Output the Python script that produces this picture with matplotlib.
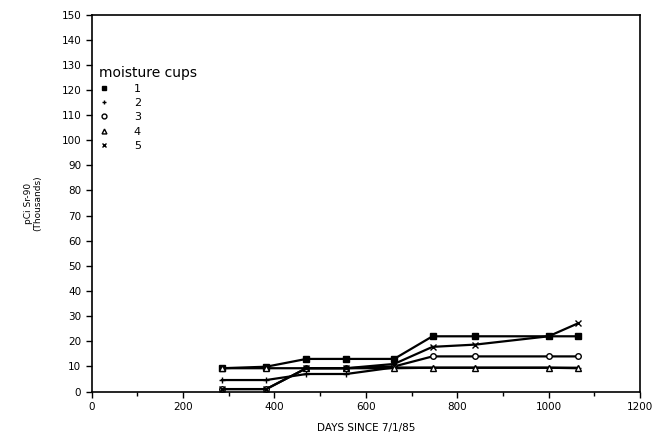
import numpy as np
import matplotlib.pyplot as plt
from matplotlib.lines import Line2D

# sampling days (days since 7/1/85)
days = [285, 382, 470, 557, 662, 746, 840, 1000, 1065]

# Sr-90 activity in moisture cups, thousands of pCi
cup1 = [9.3, 9.9, 13.0, 13.0, 13.0, 22.0, 22.0, 22.0, 22.0]
cup2 = [4.6, 4.6, 7.0, 7.0, 9.6, 9.5, 9.5, 9.5, 9.5]
cup3 = [1.0, 1.0, 9.3, 9.3, 10.0, 14.0, 14.0, 14.0, 14.0]
cup4 = [9.3, 9.3, 9.3, 9.3, 9.3, 9.5, 9.5, 9.5, 9.3]
cup5 = [1.0, 1.0, 9.3, 9.3, 11.0, 17.8, 18.7, 22.0, 27.2]

cup_names = ['1', '2', '3', '4', '5']
markers = ['s', '+', 'o', '^', 'x']
fills = ['k', 'k', 'white', 'white', 'k']

fig = plt.figure(figsize=(6.55, 4.4), dpi=100)
ax = fig.add_axes([0.14, 0.11, 0.837, 0.857])

series = [cup1, cup2, cup3, cup4, cup5]
for vals, m, fc in zip(series, markers, fills):
    ax.plot(days, vals, color='k', lw=1.6, marker=m, ms=4,
            mfc=fc, mec='k', mew=1.0)

ax.set_xlim(0, 1200)
ax.set_ylim(0, 150)
ax.set_xticks(np.arange(0, 1201, 200))
ax.set_xticks(np.arange(0, 1201, 100), minor=True)
ax.set_yticks(np.arange(0, 151, 10))
ax.tick_params(axis='both', which='both', direction='out', labelsize=7.5,
               width=1.0, length=4, colors='k')
ax.tick_params(axis='x', which='minor', length=3)
for s in ax.spines.values():
    s.set_linewidth(1.2)

ax.set_xlabel('DAYS SINCE 7/1/85', fontsize=7.5, labelpad=8)
ax.set_ylabel('pCi Sr-90\n(Thousands)', fontsize=6.5, labelpad=14,
              linespacing=1.0)

handles = [Line2D([], [], ls='none', marker=m, ms=3.5, mfc=fc, mec='k',
                  color='k', mew=1.0) for m, fc in zip(markers, fills)]
leg = ax.legend(handles, cup_names, title='moisture cups', loc='upper left',
                bbox_to_anchor=(0.0, 0.885), frameon=False, fontsize=8,
                title_fontsize=10, handlelength=0.8, handletextpad=2.3,
                labelspacing=0.38, borderaxespad=0.3, alignment='left')

fig.savefig('out.png', dpi=100)
